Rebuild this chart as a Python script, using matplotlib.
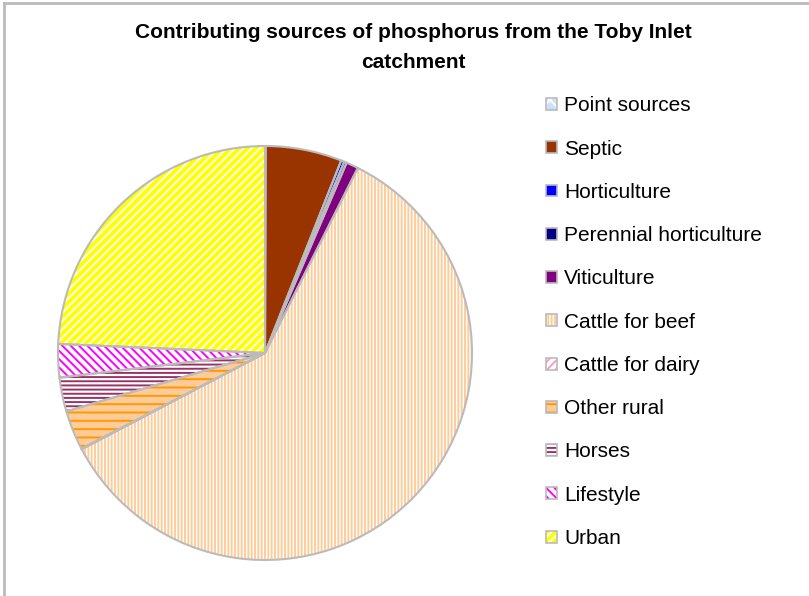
import matplotlib
matplotlib.use("Agg")
from matplotlib import pyplot as plt
from matplotlib.patches import Patch
from matplotlib.lines import Line2D
from matplotlib.legend_handler import HandlerTuple

plt.rcParams['font.family'] = ['Liberation Sans', 'DejaVu Sans']
plt.rcParams['hatch.linewidth'] = 1.4

# phosphorus load share by source (%)
sources = ['Point sources', 'Septic', 'Horticulture', 'Perennial horticulture',
           'Viticulture', 'Cattle for beef', 'Cattle for dairy', 'Other rural',
           'Horses', 'Lifestyle', 'Urban']
share = [0.05, 5.95, 0.25, 0.2, 0.95, 59.9, 0.05, 3.1, 2.65, 2.6, 24.3]

# fill colour, hatch colour, hatch pattern for each source
fills = ['#CCE0FF', '#993300', '#0000FF', '#000080', '#800080', 'white',
         'white', '#FFCC99', 'white', 'white', '#FFFF00']
hatch_cols = ['white', '#993300', '#0000FF', '#000080', '#800080', '#FFCC99',
              '#FF99CC', '#FF9900', '#993366', '#FF00FF', 'white']
hatches = ['xx', None, None, None, None, '|||||', '////', '--', '----',
           '\\\\\\\\', '////']

W, H = 809, 596
fig = plt.figure(figsize=(W / 100, H / 100), dpi=100)

# outer chart frame
fig.add_artist(Line2D([4 / W, 4 / W], [0, 1 - 3 / H], color='#BBBBBB', lw=2))
fig.add_artist(Line2D([4 / W, 1], [1 - 3 / H, 1 - 3 / H], color='#BBBBBB', lw=2))

cx, cy, r = 265, 353, 207
ax = fig.add_axes([(cx - r) / W, (H - cy - r) / H, 2 * r / W, 2 * r / H])

wedges, _ = ax.pie(share, startangle=90, counterclock=False, colors=fills,
                   wedgeprops=dict(linewidth=0))
for w, hc, h in zip(wedges, hatch_cols, hatches):
    w.set_edgecolor(hc)
    if h:
        w.set_hatch(h)

# grey outlines on top
ax.pie(share, startangle=90, counterclock=False,
       wedgeprops=dict(fill=False, edgecolor='#BBBBBB', linewidth=1.5))
ax.set_xlim(-1.0, 1.0)
ax.set_ylim(-1.0, 1.0)
ax.set_aspect('equal')
ax.axis('off')

fig.text(413 / W, 1 - 33 / H, 'Contributing sources of phosphorus from the Toby Inlet',
         ha='center', va='center', fontsize=15, fontweight='bold')
fig.text(413 / W, 1 - 62 / H, 'catchment',
         ha='center', va='center', fontsize=15, fontweight='bold')

handles = []
for lab, fc, hc, h in zip(sources, fills, hatch_cols, hatches):
    body = Patch(facecolor=fc, edgecolor=hc, hatch=h, linewidth=0)
    rim = Patch(fill=False, edgecolor='#BBBBBB', linewidth=1.2)
    handles.append((body, rim))
leg = fig.legend(handles=handles, labels=sources, loc='upper left',
                 handler_map={tuple: HandlerTuple(ndivide=1)},
                 bbox_to_anchor=(538 / W, 1 - 88 / H), frameon=False,
                 fontsize=15, handlelength=0.5, handleheight=0.5,
                 handletextpad=0.36, labelspacing=1.165, borderaxespad=0)

fig.savefig('out.png', dpi=100)
